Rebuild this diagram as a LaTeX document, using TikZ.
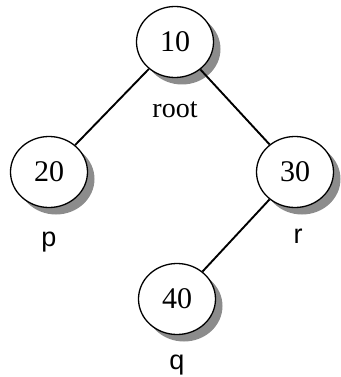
\documentclass[tikz,border=0pt]{standalone}
\usepackage{fontspec}
\setmainfont{Liberation Serif}
\newfontfamily\tagfont{Liberation Sans}
\usetikzlibrary{positioning}
\usetikzlibrary{shapes.geometric}
\usetikzlibrary{shadows}

\begin{document}
\begin{tikzpicture}[%
    x=1pt,y=-1pt,
    key/.style={%
      ellipse,
      draw,
      line width=1.3pt,
      fill=white,
      minimum width=77pt,
      minimum height=71pt,
      inner sep=0pt,
      font=\fontsize{30}{34}\selectfont,
      drop shadow={shadow xshift=7pt,shadow yshift=-7pt,fill=gray!90,opacity=1},
    },
    tag/.style={inner sep=0pt,font=\tagfont\fontsize{27}{32}\selectfont},
    link/.style={line width=1.9pt},
  ]
  \useasboundingbox (0,0) rectangle (340,377);

  % the tree
  \node [key] (n10) at (175,42) {10};
  \node [key] (n20) at (49,172) {20};
  \node [key] (n30) at (295,172) {30};
  \node [key] (n40) at (177,299) {40};

  \draw [link] (n10) -- (n20);
  \draw [link] (n10) -- (n30);
  \draw [link] (n30) -- (n40);

  % pointers
  \node [tag,font=\fontsize{28}{32}\selectfont,below=23pt of n10] (root) {root};
  \node [tag,below=24pt of n20] (p) {p};
  \node [tag,below=21pt of n30,xshift=3pt] (r) {r};
  \node [tag,below=20pt of n40] (q) {q};
\end{tikzpicture}
\end{document}
